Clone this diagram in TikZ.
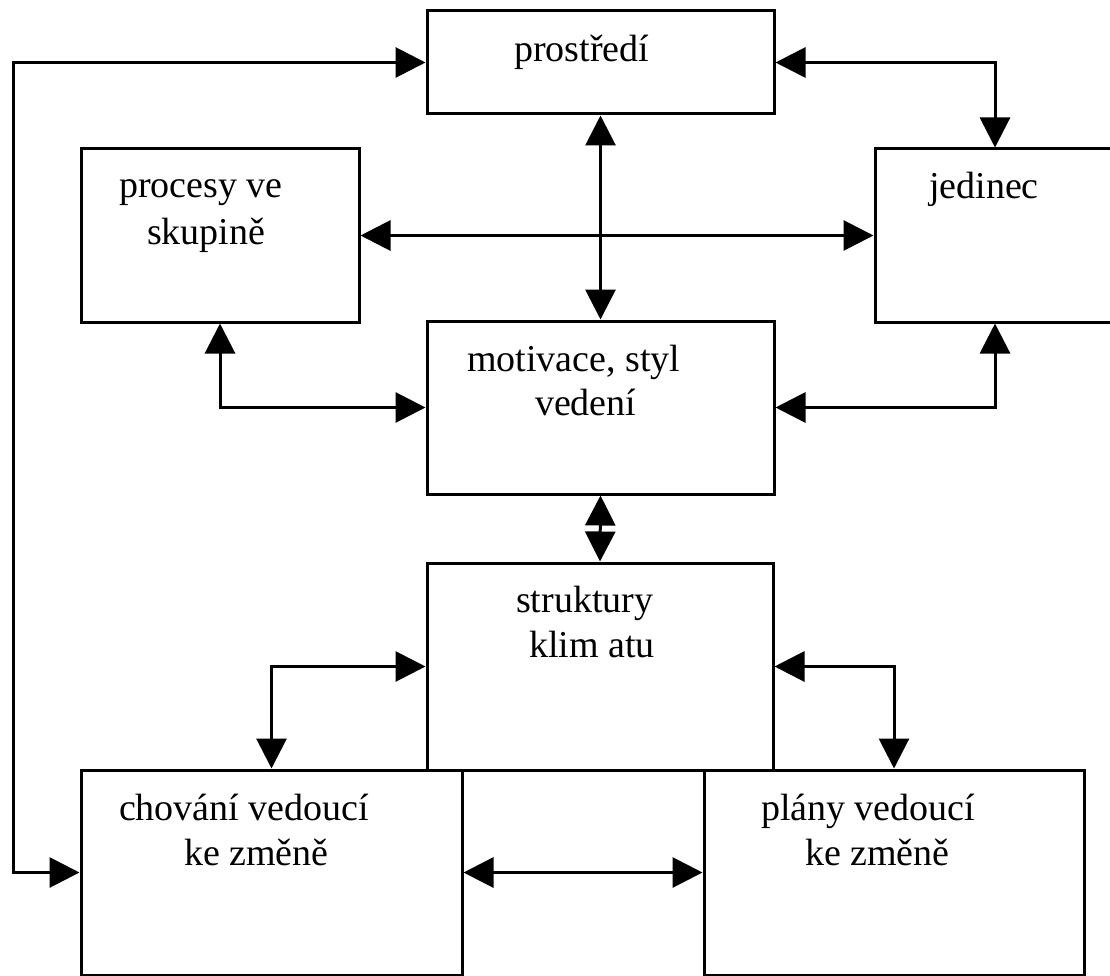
\documentclass[tikz,border=0pt]{standalone}
\usepackage{fontspec}
\setmainfont{Liberation Serif}
\usetikzlibrary{arrows.meta}
\begin{document}
\begin{tikzpicture}[x=1pt,y=-1pt,
  box/.style={draw,line width=3pt,inner sep=0pt},
  lbl/.style={anchor=base west,inner sep=0pt,outer sep=0pt,font=\fontsize{38}{45}\selectfont},
  tip/.tip={Triangle[length=30pt,width=30pt]},
  conn/.style={line width=3pt,tip-tip}]
\useasboundingbox[fill=white] (0,0) rectangle (1110,976);
% boxes
\node[box,minimum width=347pt,minimum height=103pt] (prost) at (600.5,62.5) {};
\node[box,minimum width=278pt,minimum height=173pt] (proc) at (220,235.5) {};
\node[box,minimum width=240pt,minimum height=173pt] (jed) at (995,235.5) {};
\node[box,minimum width=347pt,minimum height=173pt] (motiv) at (600.5,407.5) {};
\node[box,minimum width=346pt,minimum height=207pt] (strukt) at (600,666.5) {};
\node[box,minimum width=381pt,minimum height=205pt] (chov) at (271.5,872.5) {};
\node[box,minimum width=380pt,minimum height=205pt] (plany) at (894,872.5) {};
% texts
\node[lbl] (tprost) at (514,62) {prostředí};
\node[lbl] (tproc1) at (119,198) {procesy ve};
\node[lbl] (tproc2) at (147,244) {skupině};
\node[lbl] (tjed) at (929,199) {jedinec};
\node[lbl] (tmot1) at (467,371) {motivace, styl};
\node[lbl] (tmot2) at (535,415) {vedení};
\node[lbl] (tstr1) at (516,612) {struktury};
\node[lbl] (tstr2) at (529,657) {klim atu};
\node[lbl] (tchov1) at (119,820) {chování vedoucí};
\node[lbl] (tchov2) at (184,865) {ke změně};
\node[lbl] (tplan1) at (761,820) {plány vedoucí};
\node[lbl] (tplan2) at (805,865) {ke změně};
% connectors
\coordinate (L) at (13,0);
\draw[conn] (chov.west) -- (chov.west -| L) -- (prost.west -| L) -- (prost.west);
\draw[conn] (prost.east) -| (jed.north);
\draw[conn] (prost.south) -- (motiv.north);
\draw[conn] (proc.east) -- (jed.west);
\draw[conn] (proc.south) |- (motiv.west);
\draw[conn] (jed.south) |- (motiv.east);
\draw[conn] (motiv.south) -- (strukt.north);
\draw[conn] (strukt.west) -| (chov.north);
\draw[conn] (strukt.east) -| (plany.north);
\draw[conn] (chov.east) -- (plany.west);
\end{tikzpicture}
\end{document}
